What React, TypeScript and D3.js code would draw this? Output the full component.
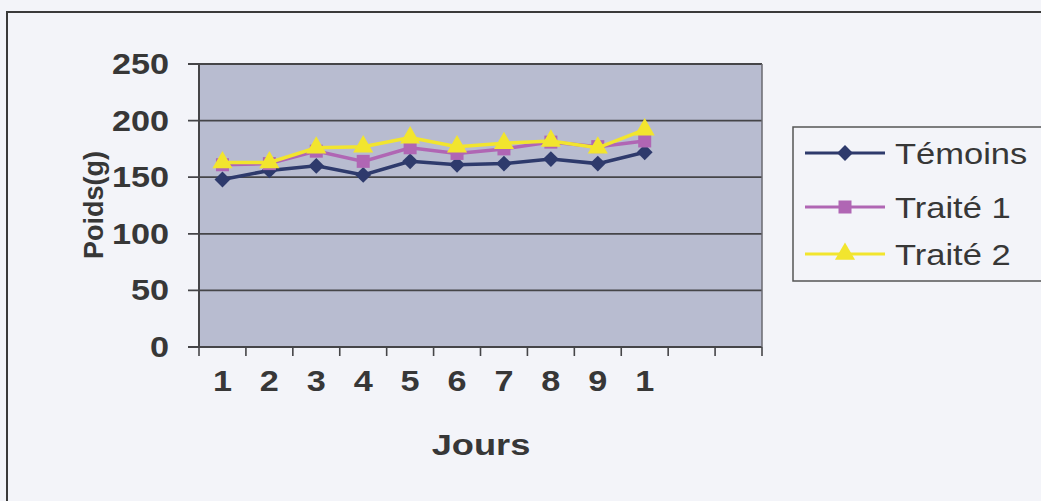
import React from "react";
import * as d3 from "d3";

const days = ["1", "2", "3", "4", "5", "6", "7", "8", "9", "1"];
const categoryCount = 12;
const yTicks = [0, 50, 100, 150, 200, 250];
const temoins = [148, 156, 160, 152, 164, 161, 162, 166, 162, 172];
const traite1 = [161, 162, 173, 164, 176, 171, 175, 181, 177, 182];
const traite2 = [163, 163, 176, 177, 185, 177, 180, 182, 176, 192];
const seriesNames = ["Témoins", "Traité 1", "Traité 2"];

const W = 1041;
const H = 501;
const plot = { left: 199, right: 762, top: 64, bottom: 347 };
const colors = ["#2e3a6c", "#b066b4", "#f2e52e"];
const font = "'Liberation Sans', Arial, sans-serif";
const textColor = "#373737";
const SX = 1.18;

function Marker({ kind, x, y, color }: { kind: number; x: number; y: number; color: string }) {
  if (kind === 0) {
    const p = d3.symbol().type(d3.symbolDiamond2).size(160)();
    return <path d={p || ""} transform={`translate(${x},${y})`} fill={color} />;
  }
  if (kind === 1) {
    return <rect x={x - 6.5} y={y - 6.5} width={13} height={13} fill={color} />;
  }
  const p = d3.symbol().type(d3.symbolTriangle).size(175)();
  return <path d={p || ""} transform={`translate(${x},${y})`} fill={color} />;
}

export default function App() {
  const x = d3
    .scaleBand<number>()
    .domain(d3.range(categoryCount))
    .range([plot.left, plot.right])
    .paddingInner(0)
    .paddingOuter(0);
  const y = d3.scaleLinear().domain([0, 250]).range([plot.bottom, plot.top]);
  const cx = (i: number) => (x(i) as number) + x.bandwidth() / 2;
  const line = d3
    .line<number>()
    .x((_, i) => cx(i))
    .y((d) => y(d));
  const series = [temoins, traite1, traite2];
  const boundaries = d3.range(categoryCount + 1).map((k) => plot.left + k * x.bandwidth());

  return (
    <svg
      width={W}
      height={H}
      style={{ position: "absolute", left: 0, top: 0, display: "block" }}
    >
      <rect x={0} y={0} width={W} height={H} fill="#f3f4f9" />
      <rect x={7} y={12} width={W + 10} height={H + 10} fill="none" stroke="#3a3a3a" strokeWidth={2} />
      <rect
        x={plot.left}
        y={plot.top}
        width={plot.right - plot.left}
        height={plot.bottom - plot.top}
        fill="#b8bcd0"
      />
      {yTicks.map((t) => (
        <line
          key={"g" + t}
          x1={188}
          x2={plot.right}
          y1={y(t)}
          y2={y(t)}
          stroke="#454548"
          strokeWidth={1.8}
        />
      ))}
      <line x1={plot.left} x2={plot.left} y1={plot.top} y2={plot.bottom + 1} stroke="#454548" strokeWidth={2} />
      <line x1={plot.right} x2={plot.right} y1={plot.top} y2={plot.bottom} stroke="#6a6a70" strokeWidth={1.5} />
      {boundaries.map((bx, k) => (
        <line key={"t" + k} x1={bx} x2={bx} y1={plot.bottom} y2={plot.bottom + 9} stroke="#454548" strokeWidth={1.6} />
      ))}
      {yTicks.map((t) => (
        <text
          key={"yl" + t}
          transform={`translate(169,${y(t) + 10}) scale(${SX},1)`}
          textAnchor="end"
          fontFamily={font}
          fontWeight="bold"
          fontSize={29}
          fill={textColor}
        >
          {t}
        </text>
      ))}
      {days.map((d, i) => (
        <text
          key={"xl" + i}
          transform={`translate(${cx(i)},391) scale(${SX},1)`}
          textAnchor="middle"
          fontFamily={font}
          fontSize={29}
          fontWeight="bold"
          fill={textColor}
        >
          {d}
        </text>
      ))}
      <text
        transform={`translate(481,455) scale(1.25,1)`}
        textAnchor="middle"
        fontFamily={font}
        fontSize={29}
        fontWeight="bold"
        fill={textColor}
      >
        Jours
      </text>
      <text
        transform={`translate(103,205) rotate(-90)`}
        textAnchor="middle"
        fontFamily={font}
        fontSize={27}
        fontWeight="bold"
        fill={textColor}
      >
        Poids(g)
      </text>
      {series.map((s, k) => (
        <g key={"s" + k}>
          <path d={line(s) || ""} fill="none" stroke={colors[k]} strokeWidth={3.5} />
          {s.map((v, i) => (
            <Marker key={i} kind={k} x={cx(i)} y={y(v)} color={colors[k]} />
          ))}
        </g>
      ))}
      <rect x={793} y={127} width={260} height={154} fill="#f3f4f9" stroke="#555" strokeWidth={1.5} />
      {seriesNames.map((n, k) => {
        const ly = [153, 207, 254][k];
        return (
          <g key={"lg" + k}>
            <line x1={805} x2={885} y1={ly} y2={ly} stroke={colors[k]} strokeWidth={3} />
            <Marker kind={k} x={845} y={ly} color={colors[k]} />
            <text
              transform={`translate(895,${ly + 11}) scale(1.15,1)`}
              fontFamily={font}
              fontSize={30}
              fill={textColor}
            >
              {n}
            </text>
          </g>
        );
      })}
    </svg>
  );
}
